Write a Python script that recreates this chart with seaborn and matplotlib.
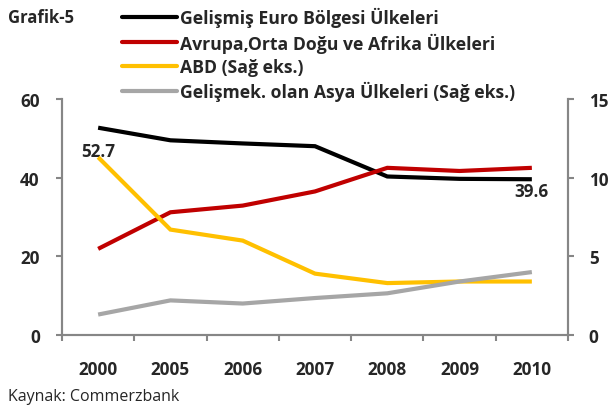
import matplotlib
matplotlib.use("Agg")
import matplotlib.pyplot as plt
import seaborn as sns
import pandas as pd
import numpy as np
from matplotlib.lines import Line2D

years = ["2000", "2005", "2006", "2007", "2008", "2009", "2010"]
euro_dev = [52.7, 49.5, 48.7, 48.0, 40.3, 39.7, 39.6]
emea = [21.9, 31.2, 32.9, 36.5, 42.5, 41.7, 42.5]
usa = [11.3, 6.7, 6.0, 3.9, 3.3, 3.4, 3.4]
asia_em = [1.3, 2.2, 2.0, 2.35, 2.65, 3.4, 4.0]

names_left = ["Gelişmiş Euro Bölgesi Ülkeleri", "Avrupa,Orta Doğu ve Afrika Ülkeleri"]
names_right = ["ABD (Sağ eks.)", "Gelişmek. olan Asya Ülkeleri (Sağ eks.)"]
colors = {names_left[0]: "#000000", names_left[1]: "#C00000",
          names_right[0]: "#FFC000", names_right[1]: "#A6A6A6"}

sns.set_style("white")
plt.rcParams["font.family"] = ["Open Sans", "DejaVu Sans"]

pos = np.arange(len(years))
df_left = pd.DataFrame({
    "pos": np.tile(pos, 2),
    "value": euro_dev + emea,
    "series": np.repeat(names_left, len(years)),
})
df_right = pd.DataFrame({
    "pos": np.tile(pos, 2),
    "value": usa + asia_em,
    "series": np.repeat(names_right, len(years)),
})

fig = plt.figure(figsize=(6.14, 4.10), dpi=100)
ax = fig.add_axes([62/614, 74/410, 506/614, 236/410])
ax2 = ax.twinx()

lw = 3.0
sns.lineplot(data=df_left, x="pos", y="value", hue="series", hue_order=names_left,
             palette=colors, ax=ax, linewidth=lw, legend=False)
sns.lineplot(data=df_right, x="pos", y="value", hue="series", hue_order=names_right,
             palette=colors, ax=ax2, linewidth=lw, legend=False)
for l in ax.lines + ax2.lines:
    l.set_solid_capstyle("butt")
    l.set_solid_joinstyle("miter")

spine_c = "#868686"
ax.set_xlim(-0.5, len(years) - 0.5)
ax.set_ylim(0, 60)
ax2.set_ylim(0, 15)
ax.set_yticks([0, 20, 40, 60])
ax2.set_yticks([0, 5, 10, 15])
ax.set_xticks(np.arange(len(years) + 1) - 0.5)
ax.set_xticklabels([])
ax.set_xticks(pos, minor=True)
ax.set_xticklabels(years, minor=True)
ax.set_xlabel("")
ax.set_ylabel("")
ax2.set_ylabel("")

for a in (ax, ax2):
    for s in a.spines.values():
        s.set_color(spine_c)
        s.set_linewidth(1.5)
    a.spines["top"].set_visible(False)
    a.grid(False)

fs = 12.3
ax.tick_params(axis="x", which="major", length=4, width=1.5, color=spine_c, direction="out", bottom=True)
ax.tick_params(axis="x", which="minor", length=0, pad=18, labelsize=fs, bottom=True)
ax.tick_params(axis="y", length=4, width=1.5, color=spine_c, direction="out", pad=12, labelsize=fs, left=True)
ax2.tick_params(axis="y", length=4, width=1.5, color=spine_c, direction="out", pad=11, labelsize=fs, right=True)
for lab in ax.get_xticklabels(minor=True) + ax.get_yticklabels() + ax2.get_yticklabels():
    lab.set_fontweight("bold")

ax.annotate(f"{euro_dev[0]:.1f}", xy=(pos[0], euro_dev[0]), xytext=(0, -23),
            textcoords="offset pixels", ha="center", va="center",
            fontsize=fs, fontweight="bold")
ax.annotate(f"{euro_dev[-1]:.1f}", xy=(pos[-1], euro_dev[-1]), xytext=(0, -12),
            textcoords="offset pixels", ha="center", va="center",
            fontsize=fs, fontweight="bold")

handles = [Line2D([], [], color=colors[n], linewidth=lw) for n in names_left + names_right]
fig.legend(handles, names_left + names_right, loc="upper left",
           bbox_to_anchor=(122/614, 1 - 8/410), frameon=False,
           prop={"size": 12.7, "weight": "bold"}, handlelength=3.1,
           handletextpad=0.2, labelspacing=0.30, borderpad=0, borderaxespad=0)

fig.text(8/614, 1 - 18/410, "Grafik-5", fontsize=12, fontweight="bold", va="center", ha="left")
fig.text(8/614, 1 - 397/410, "Kaynak: Commerzbank", fontsize=11.5, va="center", ha="left")

fig.savefig("out.png", dpi=100)
